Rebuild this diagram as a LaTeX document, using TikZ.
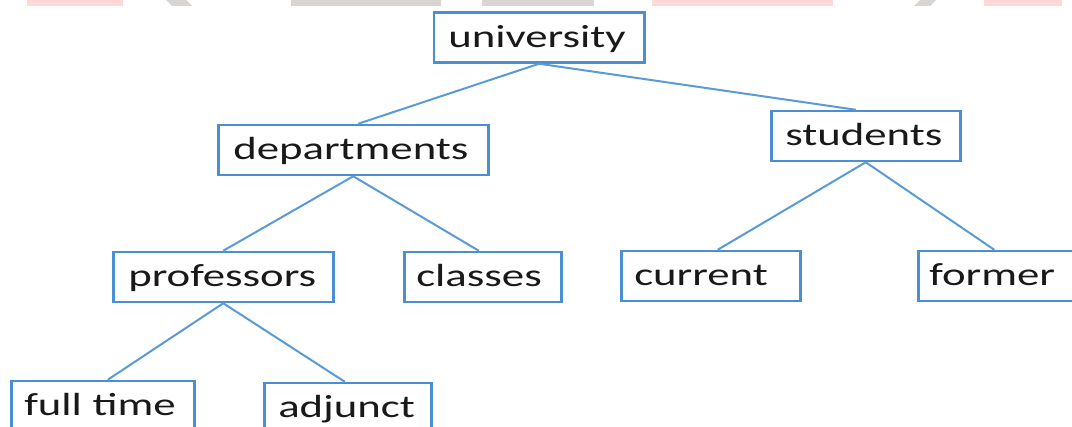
\documentclass[tikz,border=0pt]{standalone}
\usepackage{fontspec}
\setmainfont{Carlito}[FakeStretch=1.4]
\definecolor{boxblue}{HTML}{4A8ED3}
\definecolor{lineblue}{HTML}{5B9BD5}
\definecolor{wmgray}{HTML}{D8D5D3}
\definecolor{wmpink}{HTML}{FFD8D8}
\tikzset{
  treebox/.style={draw=boxblue, line width=2.5pt, fill=white, rectangle, anchor=west,
    minimum height=50pt, inner ysep=0pt, text height=24pt, text depth=4pt,
    align=left, text=black!90, font=\fontsize{32}{38}\selectfont},
  conn/.style={draw=lineblue, line width=2pt},
  wm/.style={draw=none}
}
\begin{document}
\begin{tikzpicture}[x=1pt,y=-1pt]
\useasboundingbox (0,0) rectangle (1072,427);
\clip (0,0) rectangle (1072,427);
\fill[white] (0,0) rectangle (1072,427);
% faint watermark band
\fill[wmpink] (27,0) rectangle (123,6);
\fill[wmgray] (166,0) -- (186,0) -- (192,6) -- (172,6) -- cycle;
\fill[wmgray] (291,0) rectangle (441,6);
\fill[wmgray] (482,0) rectangle (594,6);
\fill[wmpink] (652,0) rectangle (833,6);
\fill[wmgray] (920,0) -- (936,0) -- (930,6) -- (914,6) -- cycle;
\fill[wmpink] (984,0) rectangle (1062,6);
% connectors first
\coordinate (dummy) at (0,0);
% nodes
\node[treebox, inner xsep=14.5pt, text width=181.5pt] (uni) at (432.5,37.5) {university};
\node[treebox, inner xsep=15pt, text width=240pt] (dept) at (217,150) {departments};
\node[treebox, inner xsep=14pt, text width=161pt] (stud) at (770,136) {students};
\node[treebox, inner xsep=15pt, text width=190pt] (prof) at (112,277) {professors};
\node[treebox, inner xsep=12pt, text width=133pt] (cls) at (403,277) {classes};
\node[treebox, inner xsep=13pt, text width=153pt] (cur) at (620,276) {current};
\node[treebox, inner xsep=11pt, text width=146pt] (form) at (917,276) {former};
\node[treebox, inner xsep=13pt, text width=157pt] (full) at (10,406) {full time};
\node[treebox, inner xsep=14pt, text width=139pt] (adj) at (263,408) {adjunct};
% connectors
\draw[conn] (uni.south) -- ([xshift=5pt]dept.north);
\draw[conn] (uni.south) -- ([xshift=-10pt]stud.north);
\draw[conn] (dept.south) -- (prof.north);
\draw[conn] (dept.south) -- ([xshift=-4pt]cls.north);
\draw[conn] (stud.south) -- ([xshift=7pt]cur.north);
\draw[conn] (stud.south) -- ([xshift=-8pt]form.north);
\draw[conn] (prof.south) -- ([xshift=5pt]full.north);
\draw[conn] (prof.south) -- ([xshift=-3pt]adj.north);
\end{tikzpicture}
\end{document}
